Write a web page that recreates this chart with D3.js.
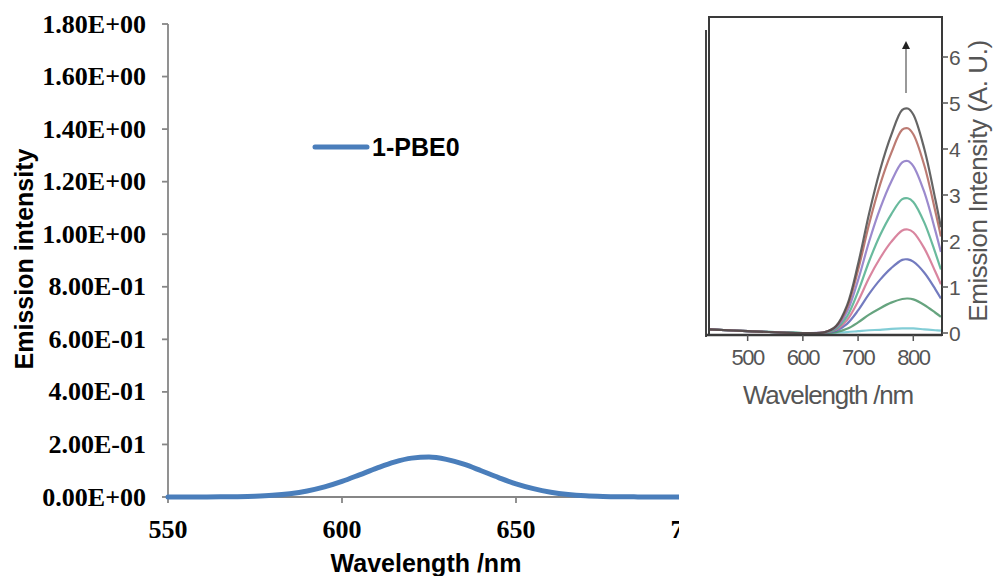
<!DOCTYPE html>
<html><head><meta charset="utf-8">
<script src="https://cdn.jsdelivr.net/npm/d3@7"></script>
<style>body{margin:0;background:#fff}svg{display:block}</style>
</head><body>
<svg id="c" width="994" height="576"></svg>
<script>
// ---- main chart data ----
const wavelengths = [550,555,560,565,570,575,580,585,590,595,600,605,610,615,620,625,630,635,640,645,650,655,660,665,670,675,680,685,690,695,700];
const pbe0 = [0.00002,0.00006,0.0002,0.0005,0.0013,0.003,0.0064,0.0127,0.023,0.0385,0.0594,0.0843,0.110,0.133,0.148,0.152,0.143,0.125,0.100,0.074,0.050,0.0317,0.0183,0.0098,0.0048,0.0022,0.0009,0.0004,0.0001,0.00005,0.00002];
const seriesName = "1-PBE0";
const yTicks = [0,0.2,0.4,0.6,0.8,1.0,1.2,1.4,1.6,1.8];
const yTickLabels = ["0.00E+00","2.00E-01","4.00E-01","6.00E-01","8.00E-01","1.00E+00","1.20E+00","1.40E+00","1.60E+00","1.80E+00"];
const xTicks = [550,600,650,700];

// ---- inset (experimental) data ----
const insetX = [430,500,600,640,660,680,700,720,740,760,780,790,800,820,840,850];
const insetBlack  = [0.08,0.04,0,0.02,0.15,0.6,1.5,2.6,3.55,4.3,4.85,4.88,4.75,4.0,2.9,2.3];
const insetRed    = [0.08,0.04,0,0.02,0.14,0.55,1.37,2.37,3.23,3.91,4.42,4.45,4.32,3.64,2.64,2.1];
const insetPurple = [0.08,0.04,0,0.02,0.12,0.46,1.15,1.99,2.71,3.29,3.71,3.74,3.63,3.06,2.22,1.76];
const insetGreen  = [0.08,0.04,0,0.01,0.09,0.36,0.9,1.56,2.13,2.58,2.91,2.93,2.85,2.4,1.74,1.38];
const insetPink   = [0.08,0.04,0,0.01,0.07,0.28,0.69,1.2,1.63,1.98,2.23,2.25,2.19,1.84,1.33,1.06];
const insetBlue   = [0.08,0.04,0,0.01,0.05,0.2,0.49,0.85,1.16,1.41,1.59,1.6,1.55,1.31,0.95,0.75];
const insetDkGreen= [0.08,0.04,0,0,0.02,0.09,0.23,0.4,0.54,0.66,0.74,0.75,0.73,0.61,0.44,0.35];
const insetCyan   = [0.08,0.04,0,0,0.01,0.02,0.04,0.06,0.07,0.09,0.1,0.1,0.1,0.08,0.06,0.05];
const insetXTicks = [500,600,700,800];
const insetYTicks = [0,1,2,3,4,5,6];

const svg = d3.select("#c");
const axisColor = "#868686";

// ---- main chart ----
const x = d3.scaleLinear().domain([550,700]).range([168,690]);
const y = d3.scaleLinear().domain([0,1.8]).range([497,24]);
const gMain = svg.append("g");

// y axis
gMain.append("line").attr("x1",168).attr("x2",168).attr("y1",y(1.8)).attr("y2",y(0)+1)
  .attr("stroke",axisColor).attr("stroke-width",1.8);
yTicks.forEach((t,i)=>{
  gMain.append("line").attr("x1",162).attr("x2",168).attr("y1",y(t)).attr("y2",y(t))
    .attr("stroke",axisColor).attr("stroke-width",1.8);
  gMain.append("text").attr("x",146).attr("y",y(t)).attr("dy","0.33em")
    .attr("text-anchor","end").attr("font-family","'Liberation Serif','Times New Roman',serif")
    .attr("font-weight","bold").attr("font-size",26).attr("fill","#000").text(yTickLabels[i]);
});
// x axis
gMain.append("line").attr("x1",167).attr("x2",x(700)).attr("y1",497).attr("y2",497)
  .attr("stroke",axisColor).attr("stroke-width",1.8);
xTicks.forEach(t=>{
  gMain.append("line").attr("x1",x(t)).attr("x2",x(t)).attr("y1",497).attr("y2",503)
    .attr("stroke",axisColor).attr("stroke-width",1.8);
  gMain.append("text").attr("x",x(t)).attr("y",538)
    .attr("text-anchor","middle").attr("font-family","'Liberation Serif','Times New Roman',serif")
    .attr("font-weight","bold").attr("font-size",26).attr("fill","#000").text(t);
});
// line
const line = d3.line().x((d,i)=>x(wavelengths[i])).y(d=>y(d)).curve(d3.curveMonotoneX);
gMain.append("path").datum(pbe0).attr("d",line).attr("fill","none")
  .attr("stroke","#4A7EBB").attr("stroke-width",5).attr("stroke-linecap","round");
// titles
gMain.append("text").attr("x",426).attr("y",572).attr("text-anchor","middle")
  .attr("font-family","'Liberation Sans',Arial,sans-serif").attr("font-weight","bold")
  .attr("font-size",25).attr("fill","#000").text("Wavelength /nm");
gMain.append("text").attr("transform","translate(33,259) rotate(-90)").attr("text-anchor","middle")
  .attr("font-family","'Liberation Sans',Arial,sans-serif").attr("font-weight","bold")
  .attr("font-size",25).attr("fill","#000").text("Emission intensity");
// legend
gMain.append("line").attr("x1",315).attr("x2",367).attr("y1",147).attr("y2",147)
  .attr("stroke","#4A7EBB").attr("stroke-width",5).attr("stroke-linecap","round");
gMain.append("text").attr("x",372).attr("y",156)
  .attr("font-family","'Liberation Sans',Arial,sans-serif").attr("font-weight","bold")
  .attr("font-size",25).attr("fill","#000").text(seriesName);

// white cover (inset picture background)
svg.append("rect").attr("x",679).attr("y",0).attr("width",315).attr("height",576).attr("fill","#fff");

// ---- inset ----
const ix = d3.scaleLinear().domain([430,852]).range([709,942]);
const iy = d3.scaleLinear().domain([0,6]).range([333,57]);
const gIn = svg.append("g");
const insetSeries = [
  {v:insetCyan, c:"#6cc4cf"},
  {v:insetDkGreen, c:"#4b9468"},
  {v:insetBlue, c:"#5a64b4"},
  {v:insetPink, c:"#d2708e"},
  {v:insetGreen, c:"#4fae8c"},
  {v:insetPurple, c:"#8a76c4"},
  {v:insetRed, c:"#b0645a"},
  {v:insetBlack, c:"#4a4a4a"}
];
const iline = d3.line().x((d,i)=>ix(insetX[i])).y(d=>iy(d)).curve(d3.curveCatmullRom.alpha(0.5));
insetSeries.forEach(s=>{
  gIn.append("path").datum(s.v).attr("d",iline).attr("fill","none")
    .attr("stroke",s.c).attr("stroke-width",2.2).attr("opacity",0.85);
});
// frame
gIn.append("rect").attr("x",709).attr("y",17).attr("width",233).attr("height",318)
  .attr("fill","none").attr("stroke","#3a3a3a").attr("stroke-width",2);
gIn.append("line").attr("x1",706).attr("x2",706).attr("y1",30).attr("y2",337)
  .attr("stroke","#444").attr("stroke-width",2);
gIn.append("line").attr("x1",706).attr("x2",942).attr("y1",335).attr("y2",335)
  .attr("stroke","#3a3a3a").attr("stroke-width",2.5);
const insetFont = "'Liberation Sans',Arial,sans-serif";
insetXTicks.forEach(t=>{
  gIn.append("line").attr("x1",ix(t)).attr("x2",ix(t)).attr("y1",335).attr("y2",341)
    .attr("stroke","#555").attr("stroke-width",1.5);
  gIn.append("text").attr("x",ix(t)).attr("y",365).attr("text-anchor","middle")
    .attr("font-family",insetFont).attr("font-size",22).attr("letter-spacing",-1.5)
    .attr("fill","#555").text(t);
});
insetYTicks.forEach(t=>{
  gIn.append("line").attr("x1",942).attr("x2",948).attr("y1",iy(t)).attr("y2",iy(t))
    .attr("stroke","#555").attr("stroke-width",1.5);
  gIn.append("text").attr("x",949).attr("y",iy(t)).attr("dy","0.36em")
    .attr("font-family",insetFont).attr("font-size",21).attr("fill","#555").text(t);
});
gIn.append("text").attr("x",828).attr("y",404).attr("text-anchor","middle")
  .attr("font-family",insetFont).attr("font-size",26).attr("letter-spacing",-1.2)
  .attr("fill","#555").text("Wavelength /nm");
gIn.append("text").attr("transform","translate(987,181) rotate(-90)").attr("text-anchor","middle")
  .attr("font-family",insetFont).attr("font-size",26).attr("letter-spacing",-0.4)
  .attr("fill","#555").text("Emission Intensity (A. U.)");
// arrow
gIn.append("line").attr("x1",906).attr("x2",906).attr("y1",93).attr("y2",48)
  .attr("stroke","#777").attr("stroke-width",1.5);
gIn.append("path").attr("d",`M902,49 L906,41 L910,49 Z`).attr("fill","#222");
</script>
</body></html>
